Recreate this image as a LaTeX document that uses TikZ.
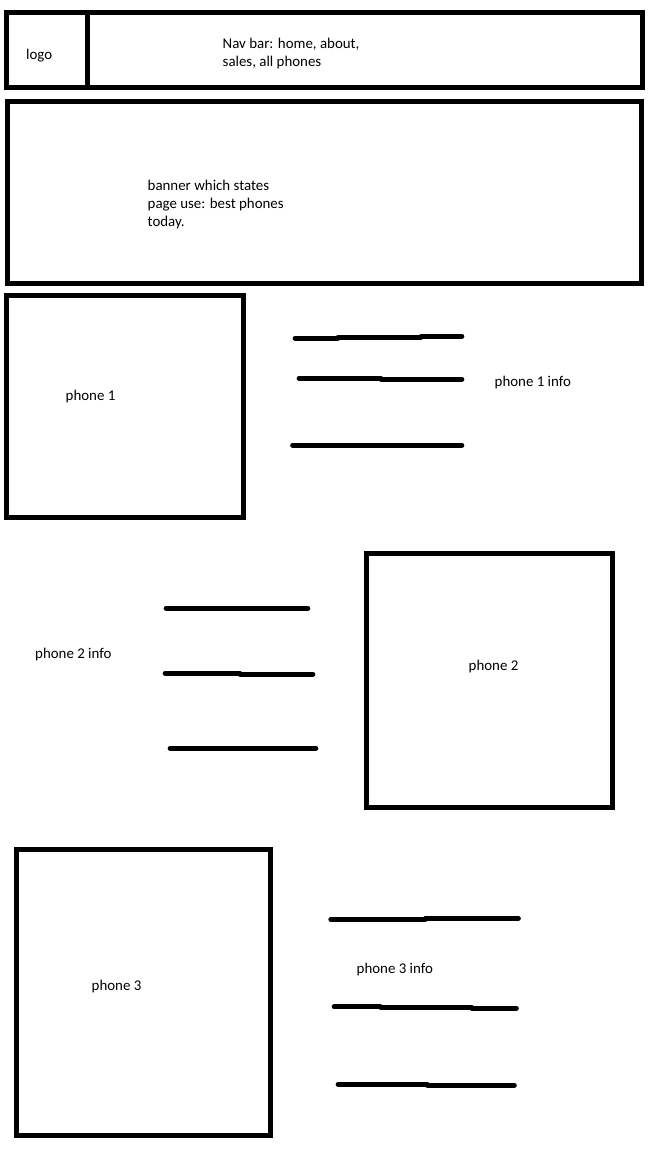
\documentclass[tikz,border=0pt]{standalone}
\usepackage{fontspec}
\setmainfont{Carlito}
\begin{document}
\begin{tikzpicture}[x=1pt,y=-1pt,
  frame/.style={draw=black,line width=5pt},
  bar/.style={draw=black,line width=4.7pt,line cap=round},
  lbl/.style={inner sep=0pt,anchor=west,align=left,font=\fontsize{14.9}{18}\selectfont}]
\useasboundingbox[fill=white] (0,0) rectangle (648,1152);
% top navigation
\draw[frame] (6.5,12) rectangle (642,87.5);
\draw[frame] (6.5,12) rectangle (87.5,87.5);
\node[lbl] (logo) at (26,56) {logo};
\node[lbl] (nav) at (222.5,53.5) {Nav bar: home, about,\\sales, all phones};
% banner
\draw[frame] (7.5,101.5) rectangle (641,283.5);
\node[lbl] (banner) at (147.5,204.5) {banner which states\\page use: best phones\\today.};
% phone 1
\draw[frame] (6.5,295.5) rectangle (243.5,517.5);
\node[lbl] (p1) at (65.5,396.7) {phone 1};
\node[lbl] (p1info) at (494.5,383) {phone 1 info};
\draw[bar] (295,338.3) -- (338,338.3);
\draw[bar] (338,337.3) -- (421,337.3);
\draw[bar] (421,336.3) -- (462,336.3);
\draw[bar] (299,378.3) -- (381,378.3);
\draw[bar] (381,379.3) -- (462,379.3);
\draw[bar] (292.5,445.3) -- (462,445.3);
% phone 2
\draw[frame] (366.5,553) rectangle (612.5,807.5);
\node[lbl] (p2) at (468.5,666.7) {phone 2};
\node[lbl] (p2info) at (35,655) {phone 2 info};
\draw[bar] (166,608.3) -- (308,608.3);
\draw[bar] (165,673.3) -- (240,673.3);
\draw[bar] (240,674.3) -- (313,674.3);
\draw[bar] (170,748.3) -- (316,748.3);
% phone 3
\draw[frame] (16,849.5) rectangle (270,1135);
\node[lbl] (p3) at (91.5,986.7) {phone 3};
\node[lbl] (p3info) at (356.5,969.7) {phone 3 info};
\draw[bar] (330.7,919.3) -- (425.3,919.3);
\draw[bar] (425.3,918.3) -- (518.5,918.3);
\draw[bar] (334,1006.7) -- (380.5,1006.7);
\draw[bar] (380.5,1007.3) -- (471.8,1007.3);
\draw[bar] (471.8,1008.3) -- (516.5,1008.3);
\draw[bar] (338,1084.3) -- (427.4,1084.3);
\draw[bar] (427.4,1085.3) -- (514.5,1085.3);
\end{tikzpicture}
\end{document}
